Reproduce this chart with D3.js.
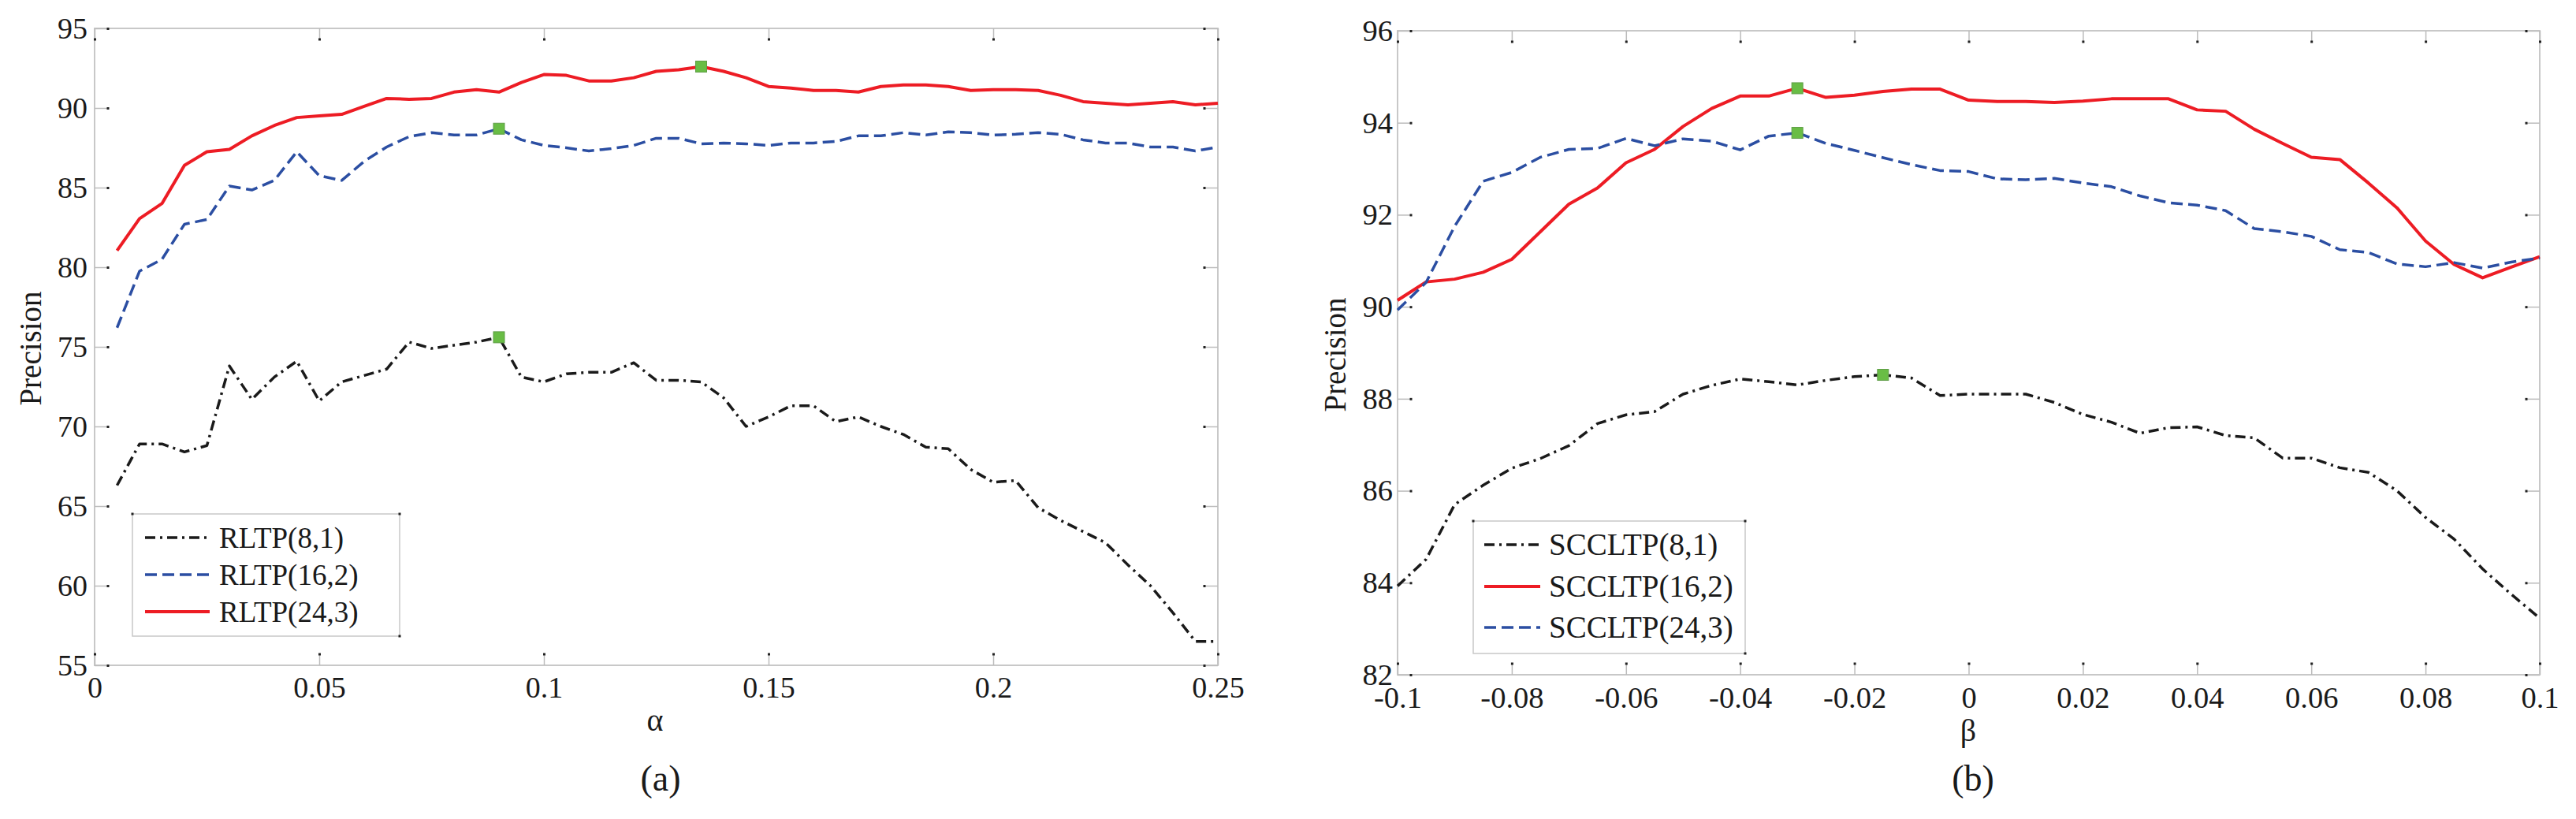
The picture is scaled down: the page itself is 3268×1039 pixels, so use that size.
<!DOCTYPE html>
<html>
<head>
<meta charset="UTF-8">
<title>Precision vs alpha and beta</title>
<script src="https://d3js.org/d3.v7.min.js"></script>
<style>
  body { margin: 0; background: #fff; }
  svg { display: block; font-family: "Liberation Serif", "Times New Roman", serif; }
  .frame { fill: none; stroke: #c8c8c8; stroke-width: 2; }
  .tick line { stroke: #bcbcbc; stroke-width: 1.5; }
  .tick text { fill: #1a1a1a; }
  .legend-box { fill: #fff; stroke: #c8c8c8; stroke-width: 1.5; }
</style>
</head>
<body>
<svg id="chart" width="3268" height="1039"></svg>
<script>
// ---- panel (a): precision against alpha ----
const alphaValues = [0.005, 0.01, 0.015, 0.02, 0.025, 0.03, 0.035, 0.04, 0.045, 0.05,
  0.055, 0.06, 0.065, 0.07, 0.075, 0.08, 0.085, 0.09, 0.095, 0.1,
  0.105, 0.11, 0.115, 0.12, 0.125, 0.13, 0.135, 0.14, 0.145, 0.15,
  0.155, 0.16, 0.165, 0.17, 0.175, 0.18, 0.185, 0.19, 0.195, 0.2,
  0.205, 0.21, 0.215, 0.22, 0.225, 0.23, 0.235, 0.24, 0.245, 0.25];

const rltp81 = [66.3, 68.9, 68.9, 68.4, 68.8, 73.8, 71.7, 73.1, 74.1, 71.6,
  72.8, 73.2, 73.6, 75.3, 74.9, 75.1, 75.3, 75.6, 73.1, 72.8,
  73.3, 73.4, 73.4, 74.0, 72.9, 72.9, 72.8, 71.8, 70.0, 70.6,
  71.3, 71.3, 70.3, 70.6, 70.0, 69.5, 68.7, 68.6, 67.3, 66.5,
  66.6, 64.9, 64.1, 63.4, 62.7, 61.3, 60.0, 58.3, 56.5, 56.5];

const rltp162 = [76.2, 79.75, 80.5, 82.7, 83.0, 85.1, 84.85, 85.45, 87.25, 85.75,
  85.45, 86.65, 87.55, 88.2, 88.45, 88.3, 88.3, 88.7, 88.0, 87.65,
  87.5, 87.3, 87.45, 87.65, 88.1, 88.1, 87.75, 87.8, 87.75, 87.65,
  87.8, 87.8, 87.9, 88.25, 88.25, 88.45, 88.3, 88.5, 88.45, 88.3,
  88.35, 88.45, 88.35, 88.0, 87.8, 87.8, 87.55, 87.55, 87.3, 87.55];

const rltp243 = [81.05, 83.05, 84.0, 86.4, 87.25, 87.4, 88.25, 88.9, 89.4, 89.5,
  89.6, 90.1, 90.6, 90.55, 90.6, 91.0, 91.15, 91.0, 91.6, 92.1,
  92.05, 91.7, 91.7, 91.9, 92.3, 92.4, 92.6, 92.3, 91.9, 91.35,
  91.25, 91.1, 91.1, 91.0, 91.35, 91.45, 91.45, 91.35, 91.1, 91.15,
  91.15, 91.1, 90.8, 90.4, 90.3, 90.2, 90.3, 90.4, 90.2, 90.3];

const alphaTicks = [0, 0.05, 0.1, 0.15, 0.2, 0.25];
const alphaTickLabels = ["0", "0.05", "0.1", "0.15", "0.2", "0.25"];
const precisionTicksA = [55, 60, 65, 70, 75, 80, 85, 90, 95];

// ---- panel (b): precision against beta ----
const betaValues = [-0.1, -0.095, -0.09, -0.085, -0.08, -0.075, -0.07, -0.065, -0.06, -0.055,
  -0.05, -0.045, -0.04, -0.035, -0.03, -0.025, -0.02, -0.015, -0.01, -0.005,
  0, 0.005, 0.01, 0.015, 0.02, 0.025, 0.03, 0.035, 0.04, 0.045,
  0.05, 0.055, 0.06, 0.065, 0.07, 0.075, 0.08, 0.085, 0.09, 0.095, 0.1];

const scc81 = [83.93, 84.51, 85.7, 86.12, 86.49, 86.7, 86.98, 87.46, 87.65, 87.72,
  88.1, 88.29, 88.43, 88.37, 88.3, 88.4, 88.48, 88.52, 88.45, 88.07,
  88.1, 88.1, 88.1, 87.92, 87.66, 87.49, 87.25, 87.37, 87.39, 87.2,
  87.15, 86.71, 86.71, 86.5, 86.4, 86.0, 85.42, 84.95, 84.3, 83.75, 83.23];

const scc162 = [90.14, 90.54, 90.6, 90.75, 91.03, 91.63, 92.23, 92.58, 93.13, 93.42,
  93.92, 94.31, 94.58, 94.58, 94.75, 94.55, 94.6, 94.68, 94.73, 94.73,
  94.49, 94.46, 94.46, 94.44, 94.47, 94.52, 94.52, 94.52, 94.28, 94.25,
  93.86, 93.55, 93.25, 93.2, 92.69, 92.15, 91.43, 90.92, 90.63, 90.86, 91.09];

const scc243 = [89.93, 90.53, 91.75, 92.73, 92.92, 93.25, 93.42, 93.44, 93.66, 93.5,
  93.65, 93.6, 93.41, 93.71, 93.78, 93.55, 93.4, 93.24, 93.09, 92.96,
  92.94, 92.78, 92.76, 92.79, 92.69, 92.61, 92.41, 92.26, 92.21, 92.09,
  91.7, 91.63, 91.53, 91.24, 91.18, 90.93, 90.87, 90.96, 90.84, 90.97, 91.06];

const betaTicks = [-0.1, -0.08, -0.06, -0.04, -0.02, 0, 0.02, 0.04, 0.06, 0.08, 0.1];
const betaTickLabels = ["-0.1", "-0.08", "-0.06", "-0.04", "-0.02", "0", "0.02", "0.04", "0.06", "0.08", "0.1"];
const precisionTicksB = [82, 84, 86, 88, 90, 92, 94, 96];

// line styles
const RED = "#ed1c24", BLUE = "#2b4ea2", BLACK = "#1a1a1a";
const dashDot = "13,6,3,6", dashed = "15,7";

const svg = d3.select("#chart");

function drawPanel(p) {
  const g = svg.append("g");
  const x = d3.scaleLinear().domain(p.xDomain).range([p.left, p.right]);
  const y = d3.scaleLinear().domain(p.yDomain).range([p.bottom, p.top]);

  g.append("rect").attr("class", "frame")
    .attr("x", p.left).attr("y", p.top)
    .attr("width", p.right - p.left).attr("height", p.bottom - p.top);

  const none = () => "";
  const axes = [
    { a: d3.axisBottom(x).tickValues(p.xTicks).tickFormat((d, i) => p.xLabels[i]).tickSizeInner(-14), t: [0, p.bottom], xl: true },
    { a: d3.axisTop(x).tickValues(p.xTicks).tickFormat(none).tickSizeInner(-14), t: [0, p.top] },
    { a: d3.axisLeft(y).tickValues(p.yTicks).tickFormat(d3.format("d")).tickSizeInner(-17).tickPadding(p.yPad), t: [p.left, 0] },
    { a: d3.axisRight(y).tickValues(p.yTicks).tickFormat(none).tickSizeInner(-17), t: [p.right, 0] }
  ];
  axes.forEach(ax => {
    const ag = g.append("g")
      .attr("transform", `translate(${ax.t[0]},${ax.t[1]})`)
      .call(ax.a.tickSizeOuter(0));
    ag.attr("font-family", null).attr("font-size", p.fontSize);
    ag.select(".domain").remove();
    if (ax.xl) ag.selectAll(".tick text").attr("y", p.xLabelOffset).attr("dy", null);
    // little dark tip at the inner end of each tick
    ag.selectAll(".tick").each(function () {
      const ln = d3.select(this).select("line");
      const ex = +ln.attr("x2") || 0, ey = +ln.attr("y2") || 0;
      d3.select(this).append("rect")
        .attr("x", ex - 1.5).attr("y", ey - 1.5)
        .attr("width", 3).attr("height", 3).attr("fill", "#222");
    });
  });

  const line = d3.line().x((d, i) => x(p.xValues[i])).y(d => y(d));
  p.series.forEach(s => {
    g.append("path")
      .attr("d", line(s.values))
      .attr("fill", "none")
      .attr("stroke", s.color)
      .attr("stroke-width", s.width)
      .attr("stroke-dasharray", s.dash)
      .attr("stroke-linejoin", "round");
  });

  // green square on each curve's best value
  p.series.forEach(s => {
    const k = d3.maxIndex(s.values);
    g.append("rect")
      .attr("x", x(p.xValues[k]) - 7).attr("y", y(s.values[k]) - 7)
      .attr("width", 14).attr("height", 14)
      .attr("fill", "#69bd45").attr("stroke", "#5f9e47").attr("stroke-width", 1);
  });

  // legend
  const L = p.legend;
  g.append("rect").attr("class", "legend-box")
    .attr("x", L.x0).attr("y", L.y0).attr("width", L.x1 - L.x0).attr("height", L.y1 - L.y0);
  [[L.x0, L.y0], [L.x1, L.y0], [L.x1, L.y1]].forEach(c => {
    g.append("rect").attr("x", c[0] - 1.5).attr("y", c[1] - 1.5)
      .attr("width", 3).attr("height", 3).attr("fill", "#222");
  });
  p.series.forEach((s, i) => {
    const ry = L.rows[i];
    g.append("line")
      .attr("x1", L.lineX[0]).attr("x2", L.lineX[1])
      .attr("y1", ry).attr("y2", ry)
      .attr("stroke", s.color).attr("stroke-width", s.width)
      .attr("stroke-dasharray", s.dash);
    g.append("text")
      .attr("x", L.textX).attr("y", ry).attr("dy", "0.34em")
      .attr("font-size", L.fontSize).attr("fill", "#1a1a1a")
      .text(s.name);
  });

  // axis titles and panel caption
  g.append("text")
    .attr("transform", `translate(${p.yTitle[0]},${p.yTitle[1]}) rotate(-90)`)
    .attr("text-anchor", "middle").attr("font-size", 39).attr("fill", "#1a1a1a")
    .text("Precision");
  g.append("text")
    .attr("x", p.xTitle[0]).attr("y", p.xTitle[1])
    .attr("text-anchor", "middle").attr("font-size", 40).attr("fill", "#1a1a1a")
    .text(p.xName);
  g.append("text")
    .attr("x", p.caption[0]).attr("y", p.caption[1])
    .attr("text-anchor", "middle").attr("font-size", 46).attr("fill", "#1a1a1a")
    .text(p.captionText);
}

drawPanel({
  left: 120, right: 1545, top: 36, bottom: 844,
  xDomain: [0, 0.25], yDomain: [55, 95],
  xTicks: alphaTicks, xLabels: alphaTickLabels, yTicks: precisionTicksA,
  xValues: alphaValues, fontSize: 38, yPad: 9, xLabelOffset: 41,
  series: [
    { name: "RLTP(8,1)", values: rltp81, color: BLACK, dash: dashDot, width: 3.5 },
    { name: "RLTP(16,2)", values: rltp162, color: BLUE, dash: dashed, width: 3.5 },
    { name: "RLTP(24,3)", values: rltp243, color: RED, dash: null, width: 4 }
  ],
  legend: { x0: 168, y0: 652, x1: 507, y1: 807, lineX: [184, 266], textX: 278, rows: [682, 729, 776], fontSize: 37 },
  yTitle: [52, 442], xTitle: [831, 927], xName: "α",
  caption: [838, 1003], captionText: "(a)"
});

drawPanel({
  left: 1773, right: 3222, top: 39, bottom: 856,
  xDomain: [-0.1, 0.1], yDomain: [82, 96],
  xTicks: betaTicks, xLabels: betaTickLabels, yTicks: precisionTicksB,
  xValues: betaValues, fontSize: 38.5, yPad: 6, xLabelOffset: 42,
  series: [
    { name: "SCCLTP(8,1)", values: scc81, color: BLACK, dash: dashDot, width: 3.5 },
    { name: "SCCLTP(16,2)", values: scc162, color: RED, dash: null, width: 4 },
    { name: "SCCLTP(24,3)", values: scc243, color: BLUE, dash: dashed, width: 3.5 }
  ],
  legend: { x0: 1869, y0: 661, x1: 2214, y1: 829, lineX: [1883, 1954], textX: 1965, rows: [691, 744, 796], fontSize: 39 },
  yTitle: [1707, 450], xTitle: [2497, 940], xName: "β",
  caption: [2503, 1003], captionText: "(b)"
});
</script>
</body>
</html>
